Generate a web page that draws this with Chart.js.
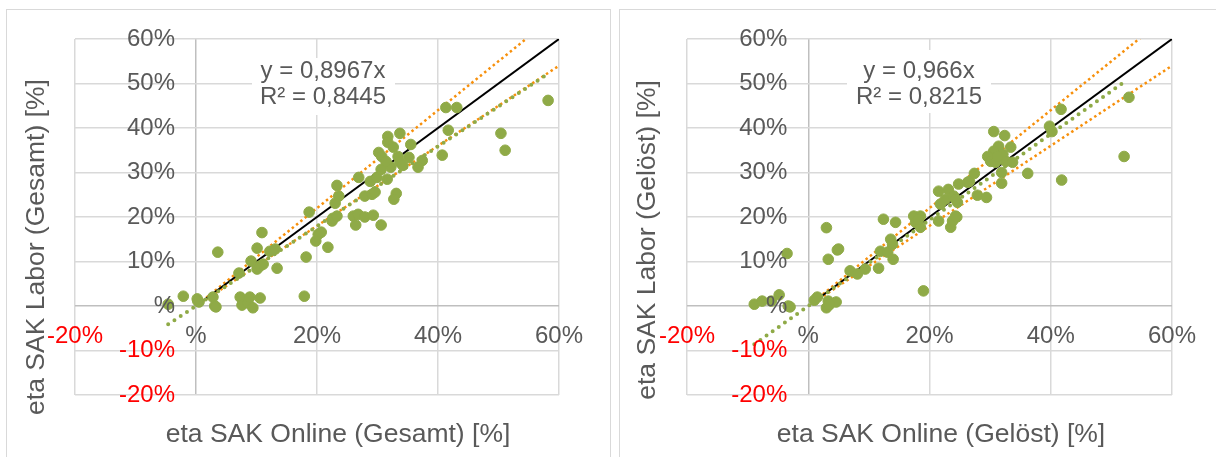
<!DOCTYPE html>
<html lang="de">
<head>
  <meta charset="UTF-8">
  <title>eta SAK Online vs. Labor</title>
  <script src="https://cdn.jsdelivr.net/npm/chart.js"></script>
  <style>
    body {
      margin: 0;
      background: #fff;
      font-family: "Liberation Sans", Arial, sans-serif;
    }
    .frame {
      position: absolute;
      top: 9px;
      height: 470px;
      border: 1.5px solid #d9d9d9;
    }
    .wrap {
      position: absolute;
      top: 0;
      height: 457px;
    }
  </style>
</head>
<body>

<div class="frame" style="left: 6px; width: 603px;"></div>
<div class="frame" style="left: 619px; width: 620px;"></div>
<div class="wrap" style="left: 0; width: 608px;"><canvas id="chartGesamt"></canvas></div>
<div class="wrap" style="left: 612px; width: 604px;"><canvas id="chartGeloest"></canvas></div>

<script>
  // tick labels (Excel hides the "0" of 0%, red labels for negatives)
  const xTicks = [-20, 0, 20, 40, 60];
  const xTickLabels = ['-20%', '%', '20%', '40%', '60%'];
  const yTicks = [-20, -10, 0, 10, 20, 30, 40, 50, 60];
  const yTickLabels = ['-20%', '-10%', '%', '10%', '20%', '30%', '40%', '50%', '60%'];

  // left chart: Gesamt (values in %)
  const onlineGesamt = [-4.6, -2.1, 0.2, 0.5, 0.3, 2.8, 3.1, 3.3, 3.6, 7.1, 7.3, 7.6, 8.6, 8.9, 9.4, 10.6,
    9.1, 10.1, 10.6, 11.1, 10.9, 10.1, 12.2, 13.1, 13.4, 17.9, 18.2, 18.7, 19.8, 20.2, 20.7, 21.8,
    22.5, 22.6, 23.3, 23.0, 23.6, 23.3, 26.0, 26.8, 27.9, 29.3, 26.4, 30.6, 26.9, 27.9, 29.1, 29.6,
    28.8, 29.9, 31.6, 30.6, 32.2, 30.2, 30.7, 31.4, 33.4, 35.2, 37.4, 33.7, 34.2, 36.7, 31.7, 33.7,
    31.7, 32.6, 35.5, 33.1, 32.7, 40.7, 41.7, 41.3, 43.1, 50.4, 51.1, 58.2];
  const laborGesamt = [0.4, 2.2, 1.6, 0.9, 1.1, 2.0, 0.0, -0.2, 12.1, 7.4, 2.0, 0.2, 0.7, 2.0, -0.4, 1.8,
    10.1, 8.3, 9.0, 9.4, 16.5, 13.0, 12.3, 12.8, 8.5, 2.2, 11.0, 21.1, 14.6, 16.1, 16.6, 13.2,
    19.1, 19.7, 20.2, 23.1, 24.7, 27.1, 20.2, 20.6, 20.0, 20.4, 18.2, 18.2, 28.9, 24.7, 25.1, 25.6,
    28.0, 28.9, 28.5, 30.7, 31.2, 34.5, 33.6, 32.5, 33.6, 33.4, 32.7, 32.3, 31.6, 31.2, 38.1, 38.8,
    36.8, 35.7, 36.3, 25.3, 24.0, 33.9, 39.5, 44.6, 44.6, 38.8, 35.0, 46.2];

  // right chart: Gelöst (values in %)
  const onlineGeloest = [-8.9, -7.6, -6.1, -4.8, -3.3, -3.0, -3.5, 1.0, 1.5, 3.3, 4.6, 3.0, 3.5, 3.0, 3.3,
    4.8, 5.0, 6.9, 8.1, 9.4, 11.6, 11.9, 13.1, 14.0, 13.6, 13.9, 12.4, 14.4, 19.0, 17.4, 18.5, 17.7,
    18.5, 18.2, 21.5, 23.5, 24.5, 23.8, 24.3, 21.5, 23.1, 21.8, 24.6, 22.6, 24.0, 24.3, 24.8, 26.3,
    27.9, 29.4, 26.6, 27.4, 30.6, 32.4, 31.4, 33.4, 30.6, 29.6, 32.1, 32.6, 33.7, 30.1, 30.9, 31.2,
    31.9, 31.9, 36.2, 39.8, 40.2, 41.7, 41.8, 52.1, 52.9];
  const laborGeloest = [0.4, 1.1, 1.1, 2.5, 0.0, -0.2, 11.8, 1.3, 2.0, 1.1, 0.9, -0.4, 0.3, 17.6, 10.5,
    12.6, 12.8, 7.9, 7.2, 8.3, 8.5, 12.3, 12.1, 10.5, 15.0, 13.9, 19.5, 18.8, 3.4, 20.2, 20.2, 18.8,
    17.7, 19.5, 19.1, 17.7, 20.0, 19.1, 20.2, 25.8, 26.2, 22.9, 23.3, 24.0, 24.7, 24.0, 27.4, 27.8,
    24.9, 24.4, 28.0, 29.8, 39.2, 38.3, 35.9, 35.7, 34.8, 33.6, 34.1, 32.5, 32.3, 32.5, 32.3, 33.6,
    30.0, 27.6, 29.8, 40.4, 39.2, 44.2, 28.3, 33.6, 46.9];

  // lines: 1:1 line, +/-10 % band, linear trend through origin
  const identityRange = [1, 60];
  const bandSlopes = [1.1, 0.9];
  const slopeGesamt = 0.8967;
  const r2Gesamt = 0.8445;
  const trendRangeGesamt = [-4.6, 57.5];
  const slopeGeloest = 0.966;
  const r2Geloest = 0.8215;
  const trendRangeGeloest = [-8.9, 51.9];

  const green = '#8faa47';
  const orange = '#f7900c';
  const textGray = '#595959';
  const font = '"Liberation Sans", Arial, sans-serif';

  const toPoints = (xs, ys) => xs.map((x, i) => ({ x: x, y: ys[i] }));
  const lineOf = (range, slope) => range.map(x => ({ x: x, y: slope * x }));
  const fmt = v => v.toString().replace('.', ',');

  // Excel-style axis labels at the zero crossing, titles and equation box
  const excelDecor = {
    id: 'excelDecor',
    beforeDatasetsDraw(chart, args, opts) {
      const c = chart.ctx;
      c.save();
      c.fillStyle = '#fff';
      c.fillRect(opts.box[0], opts.box[1], opts.box[2], opts.box[3]);
      c.fillStyle = textGray;
      c.font = '24px ' + font;
      c.textAlign = 'center';
      c.textBaseline = 'middle';
      c.fillText('y = ' + fmt(opts.slope) + 'x', opts.eqX, opts.eqY[0]);
      c.fillText('R² = ' + fmt(opts.r2), opts.eqX, opts.eqY[1]);
      c.restore();
    },
    afterDraw(chart, args, opts) {
      const c = chart.ctx;
      const xs = chart.scales.x, ys = chart.scales.y;
      const x0 = xs.getPixelForValue(0), y0 = ys.getPixelForValue(0);
      c.save();
      c.font = '24px ' + font;
      c.textBaseline = 'middle';
      c.textAlign = 'right';
      yTicks.forEach((v, i) => {
        c.fillStyle = v < 0 ? '#ff0000' : textGray;
        c.fillText(yTickLabels[i], x0 - 21, ys.getPixelForValue(v));
      });
      c.textAlign = 'center';
      xTicks.forEach((v, i) => {
        c.fillStyle = v < 0 ? '#ff0000' : textGray;
        c.fillText(xTickLabels[i], xs.getPixelForValue(v), y0 + 30);
      });
      c.fillStyle = textGray;
      c.font = '26.5px ' + font;
      c.fillText(opts.xTitle, opts.xTitlePos[0], opts.xTitlePos[1]);
      c.translate(opts.yTitlePos[0], opts.yTitlePos[1]);
      c.rotate(-Math.PI / 2);
      c.fillText(opts.yTitle, 0, 0);
      c.restore();
    }
  };

  function makeChart(id, xs, ys, slope, r2, trendRange, padRight, decor) {
    const gridColor = ctx => ctx.tick && ctx.tick.value === 0 ? '#bfbfbf' : '#d9d9d9';
    new Chart(document.getElementById(id), {
      type: 'scatter',
      data: {
        datasets: [
          {
            data: toPoints(xs, ys),
            backgroundColor: green,
            borderColor: green,
            pointRadius: 5.3,
            order: 0
          },
          {
            type: 'line',
            data: lineOf(trendRange, slope),
            borderColor: green,
            borderWidth: 4,
            borderDash: [0, 7.5],
            borderCapStyle: 'round',
            pointRadius: 0,
            order: 1
          },
          {
            type: 'line',
            data: lineOf(identityRange, 1),
            borderColor: '#000',
            borderWidth: 2,
            pointRadius: 0,
            order: 2
          },
          {
            type: 'line',
            data: lineOf(identityRange, bandSlopes[0]),
            borderColor: orange,
            borderWidth: 2.5,
            borderDash: [2.5, 3],
            pointRadius: 0,
            order: 3
          },
          {
            type: 'line',
            data: lineOf(identityRange, bandSlopes[1]),
            borderColor: orange,
            borderWidth: 2.5,
            borderDash: [2.5, 3],
            pointRadius: 0,
            order: 3
          }
        ]
      },
      options: {
        responsive: true,
        maintainAspectRatio: false,
        animation: false,
        layout: { padding: { left: 75, top: 39, right: padRight, bottom: 62 } },
        plugins: {
          legend: { display: false },
          tooltip: { enabled: false },
          excelDecor: Object.assign({ slope: slope, r2: r2 }, decor)
        },
        scales: {
          x: {
            type: 'linear', min: -20, max: 60,
            ticks: { display: false, stepSize: 20 },
            grid: { color: gridColor, lineWidth: 1.5, drawTicks: false },
            border: { display: false }
          },
          y: {
            type: 'linear', min: -20, max: 60,
            ticks: { display: false, stepSize: 10 },
            grid: { color: gridColor, lineWidth: 1.5, drawTicks: false },
            border: { display: false }
          }
        }
      },
      plugins: [excelDecor]
    });
  }

  makeChart('chartGesamt', onlineGesamt, laborGesamt, slopeGesamt, r2Gesamt, trendRangeGesamt, 49, {
    box: [252, 58, 143, 57], eqX: 323, eqY: [71, 97],
    xTitle: 'eta SAK Online (Gesamt) [%]', xTitlePos: [338, 435],
    yTitle: 'eta SAK Labor (Gesamt) [%]', yTitlePos: [37, 247]
  });
  makeChart('chartGeloest', onlineGeloest, laborGeloest, slopeGeloest, r2Geloest, trendRangeGeloest, 44, {
    box: [235, 50, 144, 63], eqX: 307, eqY: [71, 97],
    xTitle: 'eta SAK Online (Gelöst) [%]', xTitlePos: [329, 435],
    yTitle: 'eta SAK Labor (Gelöst) [%]', yTitlePos: [36, 240]
  });
</script>

</body>
</html>
